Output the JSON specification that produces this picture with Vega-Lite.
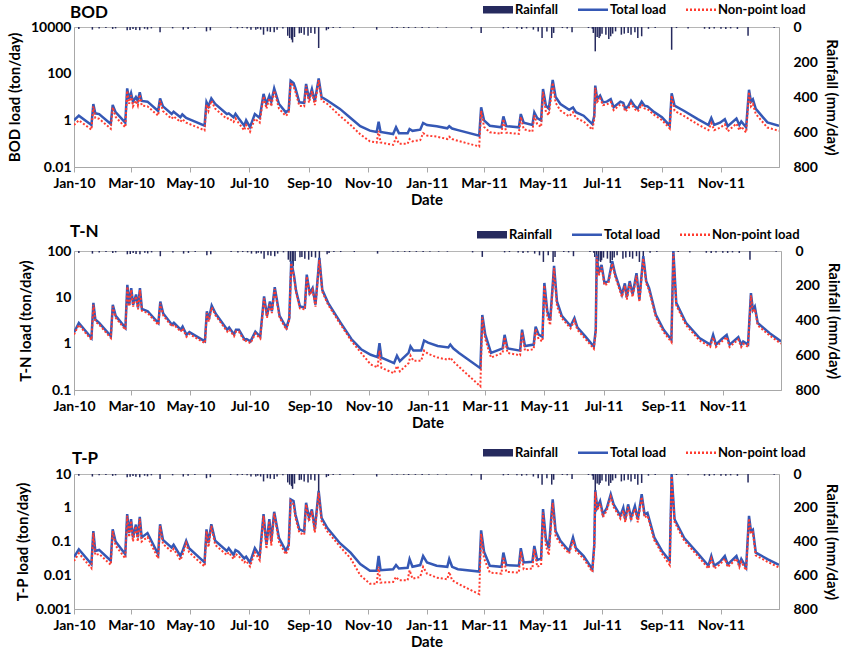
{
"$schema": "https://vega.github.io/schema/vega-lite/v6.json",
"padding": {"left": 6, "top": 2, "right": 2, "bottom": 0},
"spacing": 14,
"config": {
  "font": "Lato",
  "view": {"stroke": "#b5b5b5"},
  "axis": {"labelFont": "Lato", "labelFontWeight": "bold", "labelFontSize": 14, "labelColor": "#000", "titleFont": "Lato", "titleFontSize": 15, "titleFontWeight": "bold", "titleColor": "#000", "domainColor": "#a8a8a8", "tickColor": "#a8a8a8", "grid": false},
  "title": {"font": "Lato", "fontSize": 17, "fontWeight": "bold", "color": "#000", "anchor": "start", "frame": "group"},
  "legend": {"orient": "none", "direction": "horizontal", "title": null, "symbolSize": 225, "labelOffset": 18, "columnPadding": 14, "labelFontSize": 13, "labelFontWeight": "bold", "labelFont": "Lato", "labelColor": "#000"}
},
"resolve": {"scale": {"color": "independent"}},
"datasets": {
"rain": [
{"d":"2010-01-06","rain":11},{"d":"2010-01-20","rain":15},{"d":"2010-01-27","rain":8},{"d":"2010-02-03","rain":6},{"d":"2010-02-10","rain":11},{"d":"2010-02-13","rain":8},{"d":"2010-02-25","rain":19},{"d":"2010-02-28","rain":17},{"d":"2010-03-03","rain":12},{"d":"2010-03-06","rain":17},{"d":"2010-03-10","rain":19},{"d":"2010-03-15","rain":10},{"d":"2010-03-18","rain":14},{"d":"2010-03-22","rain":8},{"d":"2010-03-31","rain":30},{"d":"2010-04-13","rain":8},{"d":"2010-04-24","rain":15},{"d":"2010-04-29","rain":11},{"d":"2010-05-06","rain":6},{"d":"2010-05-18","rain":25},{"d":"2010-05-22","rain":19},{"d":"2010-06-12","rain":6},{"d":"2010-06-19","rain":8},{"d":"2010-06-24","rain":6},{"d":"2010-06-29","rain":8},{"d":"2010-07-03","rain":15},{"d":"2010-07-08","rain":15},{"d":"2010-07-10","rain":10},{"d":"2010-07-13","rain":15},{"d":"2010-07-16","rain":44},{"d":"2010-07-20","rain":25},{"d":"2010-07-23","rain":28},{"d":"2010-07-27","rain":30},{"d":"2010-07-30","rain":15},{"d":"2010-08-05","rain":8},{"d":"2010-08-10","rain":50},{"d":"2010-08-12","rain":63},{"d":"2010-08-14","rain":72},{"d":"2010-08-15","rain":88},{"d":"2010-08-17","rain":57},{"d":"2010-08-22","rain":36},{"d":"2010-08-24","rain":34},{"d":"2010-08-27","rain":44},{"d":"2010-08-31","rain":50},{"d":"2010-09-03","rain":34},{"d":"2010-09-07","rain":38},{"d":"2010-09-11","rain":120},{"d":"2010-09-19","rain":19},{"d":"2010-09-21","rain":12},{"d":"2010-09-26","rain":6},{"d":"2010-10-03","rain":6},{"d":"2010-10-17","rain":6},{"d":"2010-11-10","rain":15},{"d":"2010-11-26","rain":5},{"d":"2010-12-01","rain":5},{"d":"2010-12-08","rain":5},{"d":"2010-12-13","rain":6},{"d":"2010-12-20","rain":5},{"d":"2010-12-27","rain":6},
{"d":"2011-01-03","rain":4},{"d":"2011-01-12","rain":4},{"d":"2011-01-21","rain":4},{"d":"2011-02-16","rain":8},{"d":"2011-02-26","rain":34},{"d":"2011-03-21","rain":8},{"d":"2011-03-26","rain":6},{"d":"2011-04-04","rain":8},{"d":"2011-04-09","rain":11},{"d":"2011-04-14","rain":8},{"d":"2011-04-21","rain":15},{"d":"2011-04-26","rain":25},{"d":"2011-04-30","rain":63},{"d":"2011-05-05","rain":25},{"d":"2011-05-10","rain":63},{"d":"2011-05-12","rain":34},{"d":"2011-05-21","rain":6},{"d":"2011-05-26","rain":8},{"d":"2011-05-31","rain":30},{"d":"2011-06-17","rain":6},{"d":"2011-06-21","rain":10},{"d":"2011-06-22","rain":34},{"d":"2011-06-24","rain":139},{"d":"2011-06-26","rain":57},{"d":"2011-06-28","rain":63},{"d":"2011-06-29","rain":53},{"d":"2011-07-01","rain":38},{"d":"2011-07-05","rain":44},{"d":"2011-07-08","rain":69},{"d":"2011-07-10","rain":53},{"d":"2011-07-12","rain":38},{"d":"2011-07-15","rain":25},{"d":"2011-07-21","rain":44},{"d":"2011-07-24","rain":38},{"d":"2011-07-28","rain":34},{"d":"2011-07-31","rain":44},{"d":"2011-08-04","rain":30},{"d":"2011-08-07","rain":63},{"d":"2011-08-11","rain":53},{"d":"2011-08-18","rain":10},{"d":"2011-08-25","rain":6},{"d":"2011-09-11","rain":130},{"d":"2011-09-16","rain":6},{"d":"2011-09-28","rain":8},{"d":"2011-10-15","rain":10},{"d":"2011-10-20","rain":11},{"d":"2011-10-25","rain":8},{"d":"2011-11-01","rain":10},{"d":"2011-11-06","rain":11},{"d":"2011-11-11","rain":8},{"d":"2011-11-18","rain":11},{"d":"2011-11-29","rain":50},{"d":"2011-12-26","rain":4}
],
"bod": [
{"d":"2010-01-01","t":1.0,"n":0.631},{"d":"2010-01-06","t":1.58,"n":1.0},{"d":"2010-01-19","t":0.631,"n":0.398},{"d":"2010-01-21","t":5.01,"n":3.98},{"d":"2010-01-23","t":2.0,"n":1.26},{"d":"2010-01-27","t":1.86,"n":1.17},{"d":"2010-02-08","t":0.692,"n":0.437},{"d":"2010-02-10","t":4.57,"n":3.63},{"d":"2010-02-13","t":2.24,"n":1.41},{"d":"2010-02-23","t":0.794,"n":0.501},{"d":"2010-02-25","t":23.4,"n":18.6},{"d":"2010-02-27","t":8.13,"n":5.13},{"d":"2010-03-01","t":14.8,"n":11.7},{"d":"2010-03-03","t":6.31,"n":3.98},{"d":"2010-03-06","t":10,"n":7.08},{"d":"2010-03-08","t":6.76,"n":4.27},{"d":"2010-03-10","t":15.8,"n":12.6},{"d":"2010-03-12","t":6.76,"n":4.27},{"d":"2010-03-18","t":6.31,"n":3.98},{"d":"2010-03-29","t":2.51,"n":1.58},{"d":"2010-03-31","t":8.71,"n":6.92},{"d":"2010-04-03","t":3.98,"n":2.51},{"d":"2010-04-12","t":1.86,"n":1.17},{"d":"2010-04-14","t":2.34,"n":1.48},{"d":"2010-04-21","t":1.35,"n":0.851},{"d":"2010-04-23","t":1.78,"n":1.12},{"d":"2010-04-27","t":1.26,"n":0.794},{"d":"2010-04-30","t":1.12,"n":0.708},{"d":"2010-05-16","t":0.589,"n":0.372},{"d":"2010-05-18","t":6.03,"n":4.79},{"d":"2010-05-20","t":3.98,"n":2.51},{"d":"2010-05-23","t":8.71,"n":6.92},{"d":"2010-05-27","t":5.01,"n":3.16},{"d":"2010-06-08","t":1.86,"n":1.17},{"d":"2010-06-10","t":2.0,"n":1.26},{"d":"2010-06-15","t":1.35,"n":0.851},{"d":"2010-06-17","t":1.91,"n":1.2},{"d":"2010-06-20","t":1.26,"n":0.794},{"d":"2010-06-26","t":0.589,"n":0.372},{"d":"2010-06-28","t":1.0,"n":0.631},{"d":"2010-07-02","t":0.513,"n":0.324},{"d":"2010-07-07","t":1.86,"n":1.17},{"d":"2010-07-12","t":1.26,"n":0.794},{"d":"2010-07-16","t":13.5,"n":10.7},{"d":"2010-07-19","t":5.01,"n":3.16},{"d":"2010-07-22","t":11.2,"n":8.91},{"d":"2010-07-24","t":6.31,"n":3.98},{"d":"2010-07-27","t":23.4,"n":18.6},{"d":"2010-08-01","t":5.01,"n":3.16},{"d":"2010-08-08","t":2.19,"n":1.55},{"d":"2010-08-11","t":2.82,"n":2.0},{"d":"2010-08-13","t":50.1,"n":41.7},{"d":"2010-08-16","t":39.8,"n":28.2},{"d":"2010-08-18","t":23.4,"n":16.6},{"d":"2010-08-22","t":5.89,"n":4.17},{"d":"2010-08-27","t":5.62,"n":3.98},{"d":"2010-08-29","t":36.3,"n":30.2},{"d":"2010-09-01","t":8.13,"n":5.75},{"d":"2010-09-04","t":21.9,"n":18.2},{"d":"2010-09-07","t":6.31,"n":4.47},{"d":"2010-09-11","t":63.1,"n":52.5},{"d":"2010-09-14","t":10,"n":7.08},{"d":"2010-09-20","t":7.08,"n":5.01},{"d":"2010-10-03","t":3.09,"n":1.55},{"d":"2010-10-14","t":1.26,"n":0.631},{"d":"2010-10-24","t":0.562,"n":0.251},{"d":"2010-11-03","t":0.363,"n":0.126},{"d":"2010-11-10","t":0.316,"n":0.112},{"d":"2010-11-12","t":0.871,"n":0.355},{"d":"2010-11-14","t":0.316,"n":0.112},{"d":"2010-11-27","t":0.257,"n":0.0891},{"d":"2010-11-30","t":0.501,"n":0.178},{"d":"2010-12-03","t":0.282,"n":0.1},{"d":"2010-12-12","t":0.282,"n":0.1},{"d":"2010-12-14","t":0.427,"n":0.158},{"d":"2010-12-17","t":0.355,"n":0.126},{"d":"2010-12-25","t":0.398,"n":0.141},{"d":"2010-12-28","t":0.776,"n":0.282},
{"d":"2011-01-01","t":0.631,"n":0.224},{"d":"2011-01-11","t":0.562,"n":0.2},{"d":"2011-01-22","t":0.457,"n":0.158},{"d":"2011-01-24","t":0.562,"n":0.2},{"d":"2011-01-27","t":0.447,"n":0.158},{"d":"2011-02-02","t":0.38,"n":0.132},{"d":"2011-02-24","t":0.219,"n":0.0759},{"d":"2011-02-26","t":3.63,"n":2.57},{"d":"2011-03-01","t":1.0,"n":0.525},{"d":"2011-03-07","t":0.589,"n":0.309},{"d":"2011-03-19","t":0.501,"n":0.263},{"d":"2011-03-21","t":1.48,"n":1.12},{"d":"2011-03-24","t":0.562,"n":0.295},{"d":"2011-04-06","t":0.501,"n":0.263},{"d":"2011-04-08","t":1.86,"n":1.41},{"d":"2011-04-11","t":0.794,"n":0.417},{"d":"2011-04-20","t":0.631,"n":0.331},{"d":"2011-04-22","t":2.19,"n":1.66},{"d":"2011-04-25","t":1.26,"n":0.661},{"d":"2011-04-29","t":1.0,"n":0.525},{"d":"2011-05-01","t":21.9,"n":16.6},{"d":"2011-05-04","t":4.27,"n":2.24},{"d":"2011-05-07","t":3.16,"n":1.66},{"d":"2011-05-11","t":53.7,"n":40.7},{"d":"2011-05-14","t":10,"n":5.62},{"d":"2011-05-19","t":5.01,"n":2.63},{"d":"2011-05-28","t":2.82,"n":1.48},{"d":"2011-06-01","t":3.55,"n":2.24},{"d":"2011-06-04","t":2.24,"n":1.26},{"d":"2011-06-12","t":1.58,"n":0.891},{"d":"2011-06-21","t":0.692,"n":0.398},{"d":"2011-06-23","t":1.58,"n":1.12},{"d":"2011-06-24","t":30.9,"n":25.1},{"d":"2011-06-26","t":8.13,"n":6.17},{"d":"2011-06-29","t":11.5,"n":8.71},{"d":"2011-07-02","t":5.89,"n":4.47},{"d":"2011-07-06","t":6.31,"n":4.79},{"d":"2011-07-10","t":8.13,"n":6.17},{"d":"2011-07-13","t":3.63,"n":2.75},{"d":"2011-07-20","t":6.31,"n":4.79},{"d":"2011-07-23","t":5.62,"n":4.27},{"d":"2011-07-25","t":3.16,"n":2.4},{"d":"2011-07-28","t":3.98,"n":3.02},{"d":"2011-07-31","t":6.92,"n":5.25},{"d":"2011-08-04","t":3.98,"n":3.02},{"d":"2011-08-07","t":3.16,"n":2.4},{"d":"2011-08-11","t":6.31,"n":4.79},{"d":"2011-08-14","t":4.27,"n":3.24},{"d":"2011-08-17","t":3.98,"n":3.02},{"d":"2011-08-24","t":2.24,"n":1.7},{"d":"2011-09-01","t":1.35,"n":1.02},{"d":"2011-09-09","t":0.589,"n":0.447},{"d":"2011-09-11","t":14.5,"n":11.5},{"d":"2011-09-14","t":4.27,"n":2.57},{"d":"2011-09-24","t":2.51,"n":1.51},{"d":"2011-10-08","t":1.12,"n":0.676},{"d":"2011-10-19","t":0.631,"n":0.38},{"d":"2011-10-22","t":1.26,"n":0.759},{"d":"2011-10-25","t":0.631,"n":0.38},{"d":"2011-10-31","t":0.794,"n":0.479},{"d":"2011-11-05","t":1.12,"n":0.676},{"d":"2011-11-08","t":0.562,"n":0.339},{"d":"2011-11-17","t":1.2,"n":0.724},{"d":"2011-11-20","t":0.631,"n":0.38},{"d":"2011-11-22","t":0.891,"n":0.537},{"d":"2011-11-27","t":0.501,"n":0.302},{"d":"2011-11-30","t":20.4,"n":16.2},{"d":"2011-12-02","t":6.31,"n":3.98},{"d":"2011-12-04","t":7.94,"n":5.01},{"d":"2011-12-07","t":3.09,"n":1.86},{"d":"2011-12-19","t":0.813,"n":0.49},{"d":"2011-12-31","t":0.589,"n":0.355}
],
"tn": [
{"d":"2010-01-01","t":1.74,"n":1.58},{"d":"2010-01-06","t":2.79,"n":2.54},{"d":"2010-01-19","t":1.32,"n":1.2},{"d":"2010-01-21","t":7.59,"n":6.92},{"d":"2010-01-23","t":3.31,"n":3.02},{"d":"2010-01-27","t":2.82,"n":2.57},{"d":"2010-02-08","t":1.45,"n":1.32},{"d":"2010-02-10","t":6.92,"n":6.31},{"d":"2010-02-13","t":3.98,"n":3.63},{"d":"2010-02-23","t":2.19,"n":2.0},{"d":"2010-02-25","t":18.6,"n":17.0},{"d":"2010-02-27","t":6.92,"n":6.31},{"d":"2010-03-01","t":15.8,"n":14.5},{"d":"2010-03-03","t":6.92,"n":6.31},{"d":"2010-03-06","t":11.5,"n":10.5},{"d":"2010-03-08","t":6.03,"n":5.5},{"d":"2010-03-10","t":15.8,"n":14.5},{"d":"2010-03-12","t":5.62,"n":5.13},{"d":"2010-03-18","t":5.01,"n":4.57},{"d":"2010-03-29","t":2.79,"n":2.54},{"d":"2010-03-31","t":8.13,"n":7.41},{"d":"2010-04-03","t":4.47,"n":4.07},{"d":"2010-04-12","t":2.57,"n":2.34},{"d":"2010-04-14","t":2.82,"n":2.57},{"d":"2010-04-21","t":2.0,"n":1.82},{"d":"2010-04-23","t":2.34,"n":2.14},{"d":"2010-04-27","t":1.55,"n":1.41},{"d":"2010-04-30","t":1.78,"n":1.62},{"d":"2010-05-16","t":1.12,"n":1.02},{"d":"2010-05-18","t":5.01,"n":4.57},{"d":"2010-05-20","t":3.31,"n":3.02},{"d":"2010-05-23","t":6.61,"n":6.03},{"d":"2010-05-27","t":4.47,"n":4.07},{"d":"2010-06-08","t":2.0,"n":1.82},{"d":"2010-06-10","t":2.24,"n":2.04},{"d":"2010-06-15","t":1.58,"n":1.45},{"d":"2010-06-17","t":2.0,"n":1.82},{"d":"2010-06-20","t":2.0,"n":1.82},{"d":"2010-06-26","t":1.22,"n":1.11},{"d":"2010-06-28","t":1.26,"n":1.15},{"d":"2010-07-02","t":1.12,"n":1.02},{"d":"2010-07-07","t":1.82,"n":1.66},{"d":"2010-07-12","t":1.41,"n":1.29},{"d":"2010-07-16","t":10.5,"n":9.55},{"d":"2010-07-19","t":3.98,"n":3.63},{"d":"2010-07-22","t":8.13,"n":7.41},{"d":"2010-07-24","t":5.01,"n":4.57},{"d":"2010-07-27","t":16.6,"n":15.1},{"d":"2010-08-01","t":3.98,"n":3.63},{"d":"2010-08-08","t":2.19,"n":2.0},{"d":"2010-08-11","t":3.55,"n":3.24},{"d":"2010-08-13","t":60.3,"n":55.0},{"d":"2010-08-16","t":28.2,"n":25.7},{"d":"2010-08-18","t":13.8,"n":12.6},{"d":"2010-08-22","t":6.31,"n":5.75},{"d":"2010-08-27","t":6.03,"n":5.5},{"d":"2010-08-29","t":30.9,"n":28.2},{"d":"2010-09-01","t":12.3,"n":11.2},{"d":"2010-09-04","t":15.8,"n":14.5},{"d":"2010-09-07","t":6.92,"n":6.31},{"d":"2010-09-11","t":70.8,"n":64.6},{"d":"2010-09-14","t":14.5,"n":13.2},{"d":"2010-09-20","t":7.59,"n":6.92},{"d":"2010-10-03","t":2.82,"n":2.57},{"d":"2010-10-14","t":1.26,"n":1.15},{"d":"2010-10-24","t":0.759,"n":0.631},{"d":"2010-11-03","t":0.575,"n":0.355},{"d":"2010-11-10","t":0.513,"n":0.309},{"d":"2010-11-12","t":1.02,"n":0.708},{"d":"2010-11-14","t":0.501,"n":0.302},{"d":"2010-11-27","t":0.38,"n":0.229},{"d":"2010-11-30","t":0.55,"n":0.331},{"d":"2010-12-03","t":0.417,"n":0.251},{"d":"2010-12-12","t":0.631,"n":0.38},{"d":"2010-12-14","t":0.871,"n":0.55},{"d":"2010-12-17","t":0.708,"n":0.427},{"d":"2010-12-25","t":0.708,"n":0.427},{"d":"2010-12-28","t":1.17,"n":0.708},
{"d":"2011-01-01","t":1.05,"n":0.603},{"d":"2011-01-11","t":0.891,"n":0.501},{"d":"2011-01-22","t":0.832,"n":0.447},{"d":"2011-01-24","t":0.955,"n":0.501},{"d":"2011-01-27","t":0.794,"n":0.417},{"d":"2011-02-02","t":0.631,"n":0.316},{"d":"2011-02-24","t":0.295,"n":0.12},{"d":"2011-02-26","t":4.17,"n":3.72},{"d":"2011-03-01","t":1.58,"n":1.26},{"d":"2011-03-07","t":0.631,"n":0.501},{"d":"2011-03-19","t":0.794,"n":0.631},{"d":"2011-03-21","t":1.55,"n":1.38},{"d":"2011-03-24","t":0.794,"n":0.631},{"d":"2011-04-06","t":0.708,"n":0.562},{"d":"2011-04-08","t":2.0,"n":1.78},{"d":"2011-04-11","t":0.891,"n":0.708},{"d":"2011-04-20","t":0.955,"n":0.759},{"d":"2011-04-22","t":2.34,"n":2.09},{"d":"2011-04-25","t":1.58,"n":1.26},{"d":"2011-04-29","t":1.41,"n":1.12},{"d":"2011-05-01","t":20.4,"n":18.2},{"d":"2011-05-04","t":5.01,"n":3.98},{"d":"2011-05-07","t":3.16,"n":2.51},{"d":"2011-05-11","t":47.9,"n":42.7},{"d":"2011-05-14","t":8.13,"n":6.46},{"d":"2011-05-19","t":3.98,"n":3.55},{"d":"2011-05-28","t":2.4,"n":2.14},{"d":"2011-06-01","t":3.55,"n":3.16},{"d":"2011-06-04","t":2.24,"n":2.0},{"d":"2011-06-12","t":1.45,"n":1.29},{"d":"2011-06-21","t":0.871,"n":0.776},{"d":"2011-06-23","t":2.0,"n":1.78},{"d":"2011-06-24","t":83.2,"n":75.9},{"d":"2011-06-26","t":33.1,"n":29.5},{"d":"2011-06-29","t":50.1,"n":44.7},{"d":"2011-07-02","t":20.4,"n":18.2},{"d":"2011-07-06","t":22.4,"n":20.0},{"d":"2011-07-10","t":60.3,"n":53.7},{"d":"2011-07-13","t":31.6,"n":28.2},{"d":"2011-07-20","t":11.5,"n":10.2},{"d":"2011-07-23","t":20.0,"n":17.8},{"d":"2011-07-25","t":10,"n":8.91},{"d":"2011-07-28","t":22.4,"n":20.0},{"d":"2011-07-31","t":11.5,"n":10.2},{"d":"2011-08-04","t":33.1,"n":29.5},{"d":"2011-08-07","t":8.91,"n":7.94},{"d":"2011-08-11","t":77.6,"n":69.2},{"d":"2011-08-14","t":22.4,"n":20.0},{"d":"2011-08-17","t":15.8,"n":14.1},{"d":"2011-08-24","t":4.17,"n":3.72},{"d":"2011-09-01","t":2.0,"n":1.78},{"d":"2011-09-09","t":1.22,"n":1.08},{"d":"2011-09-11","t":100,"n":89.1},{"d":"2011-09-14","t":7.59,"n":6.76},{"d":"2011-09-24","t":2.82,"n":2.51},{"d":"2011-10-08","t":1.32,"n":1.17},{"d":"2011-10-19","t":0.955,"n":0.851},{"d":"2011-10-22","t":1.55,"n":1.38},{"d":"2011-10-25","t":0.955,"n":0.851},{"d":"2011-10-31","t":1.26,"n":1.12},{"d":"2011-11-05","t":1.55,"n":1.38},{"d":"2011-11-08","t":0.955,"n":0.851},{"d":"2011-11-17","t":1.38,"n":1.23},{"d":"2011-11-20","t":0.955,"n":0.851},{"d":"2011-11-22","t":1.12,"n":1.0},{"d":"2011-11-27","t":0.955,"n":0.851},{"d":"2011-11-30","t":12.3,"n":11.0},{"d":"2011-12-02","t":5.37,"n":4.79},{"d":"2011-12-04","t":6.31,"n":5.62},{"d":"2011-12-07","t":2.79,"n":2.48},{"d":"2011-12-19","t":1.7,"n":1.51},{"d":"2011-12-31","t":1.12,"n":1.0}
],
"tp": [
{"d":"2010-01-01","t":0.0347,"n":0.0263},{"d":"2010-01-06","t":0.0589,"n":0.0447},{"d":"2010-01-19","t":0.0214,"n":0.0162},{"d":"2010-01-21","t":0.204,"n":0.182},{"d":"2010-01-23","t":0.0525,"n":0.0398},{"d":"2010-01-27","t":0.0562,"n":0.0427},{"d":"2010-02-08","t":0.0269,"n":0.0204},{"d":"2010-02-10","t":0.229,"n":0.204},{"d":"2010-02-13","t":0.1,"n":0.0759},{"d":"2010-02-23","t":0.0417,"n":0.0316},{"d":"2010-02-25","t":0.646,"n":0.575},{"d":"2010-02-27","t":0.178,"n":0.135},{"d":"2010-03-01","t":0.457,"n":0.407},{"d":"2010-03-03","t":0.132,"n":0.1},{"d":"2010-03-06","t":0.316,"n":0.282},{"d":"2010-03-08","t":0.132,"n":0.1},{"d":"2010-03-10","t":0.537,"n":0.479},{"d":"2010-03-12","t":0.132,"n":0.1},{"d":"2010-03-18","t":0.178,"n":0.135},{"d":"2010-03-29","t":0.0417,"n":0.0316},{"d":"2010-03-31","t":0.324,"n":0.288},{"d":"2010-04-03","t":0.112,"n":0.0851},{"d":"2010-04-12","t":0.0661,"n":0.0501},{"d":"2010-04-14","t":0.0794,"n":0.0603},{"d":"2010-04-21","t":0.0372,"n":0.0282},{"d":"2010-04-23","t":0.0501,"n":0.038},{"d":"2010-04-27","t":0.105,"n":0.0891},{"d":"2010-04-30","t":0.0631,"n":0.0479},{"d":"2010-05-16","t":0.024,"n":0.0182},{"d":"2010-05-18","t":0.229,"n":0.204},{"d":"2010-05-20","t":0.0891,"n":0.0676},{"d":"2010-05-23","t":0.324,"n":0.288},{"d":"2010-05-27","t":0.105,"n":0.0794},{"d":"2010-06-08","t":0.0525,"n":0.0398},{"d":"2010-06-10","t":0.0631,"n":0.0479},{"d":"2010-06-15","t":0.0398,"n":0.0302},{"d":"2010-06-17","t":0.0562,"n":0.0427},{"d":"2010-06-20","t":0.0501,"n":0.038},{"d":"2010-06-26","t":0.0316,"n":0.024},{"d":"2010-06-28","t":0.0355,"n":0.0269},{"d":"2010-07-02","t":0.024,"n":0.0182},{"d":"2010-07-07","t":0.0631,"n":0.0479},{"d":"2010-07-12","t":0.0372,"n":0.0282},{"d":"2010-07-16","t":0.646,"n":0.575},{"d":"2010-07-19","t":0.0794,"n":0.0603},{"d":"2010-07-22","t":0.457,"n":0.407},{"d":"2010-07-24","t":0.1,"n":0.0759},{"d":"2010-07-27","t":0.759,"n":0.676},{"d":"2010-08-01","t":0.126,"n":0.0955},{"d":"2010-08-08","t":0.0525,"n":0.0417},{"d":"2010-08-11","t":0.0794,"n":0.0631},{"d":"2010-08-13","t":1.78,"n":1.58},{"d":"2010-08-16","t":1.58,"n":1.26},{"d":"2010-08-18","t":0.631,"n":0.501},{"d":"2010-08-22","t":0.229,"n":0.182},{"d":"2010-08-27","t":0.2,"n":0.158},{"d":"2010-08-29","t":1.41,"n":1.26},{"d":"2010-09-01","t":0.501,"n":0.398},{"d":"2010-09-04","t":0.891,"n":0.794},{"d":"2010-09-07","t":0.229,"n":0.182},{"d":"2010-09-11","t":3.16,"n":2.82},{"d":"2010-09-14","t":0.501,"n":0.398},{"d":"2010-09-20","t":0.251,"n":0.2},{"d":"2010-10-03","t":0.0891,"n":0.0708},{"d":"2010-10-14","t":0.0468,"n":0.0316},{"d":"2010-10-24","t":0.0214,"n":0.01},{"d":"2010-11-03","t":0.0135,"n":0.00562},{"d":"2010-11-10","t":0.0135,"n":0.00562},{"d":"2010-11-12","t":0.0372,"n":0.0178},{"d":"2010-11-14","t":0.0141,"n":0.00603},{"d":"2010-11-27","t":0.0151,"n":0.00631},{"d":"2010-11-30","t":0.02,"n":0.00891},{"d":"2010-12-03","t":0.0158,"n":0.00708},{"d":"2010-12-12","t":0.0166,"n":0.00708},{"d":"2010-12-14","t":0.0302,"n":0.0141},{"d":"2010-12-17","t":0.0178,"n":0.00794},{"d":"2010-12-25","t":0.02,"n":0.00891},{"d":"2010-12-28","t":0.0372,"n":0.0178},
{"d":"2011-01-01","t":0.024,"n":0.0112},{"d":"2011-01-11","t":0.0191,"n":0.00851},{"d":"2011-01-22","t":0.0178,"n":0.00759},{"d":"2011-01-24","t":0.0302,"n":0.0126},{"d":"2011-01-27","t":0.0178,"n":0.00708},{"d":"2011-02-02","t":0.0151,"n":0.00562},{"d":"2011-02-24","t":0.0129,"n":0.00275},{"d":"2011-02-26","t":0.214,"n":0.17},{"d":"2011-03-01","t":0.0501,"n":0.0316},{"d":"2011-03-07","t":0.0191,"n":0.012},{"d":"2011-03-19","t":0.0178,"n":0.0112},{"d":"2011-03-21","t":0.0468,"n":0.0355},{"d":"2011-03-24","t":0.02,"n":0.0126},{"d":"2011-04-06","t":0.0191,"n":0.012},{"d":"2011-04-08","t":0.0631,"n":0.0501},{"d":"2011-04-11","t":0.024,"n":0.0151},{"d":"2011-04-20","t":0.0251,"n":0.0158},{"d":"2011-04-22","t":0.0741,"n":0.0589},{"d":"2011-04-25","t":0.0282,"n":0.0178},{"d":"2011-04-29","t":0.0316,"n":0.02},{"d":"2011-05-01","t":0.912,"n":0.724},{"d":"2011-05-04","t":0.117,"n":0.0741},{"d":"2011-05-07","t":0.0631,"n":0.0398},{"d":"2011-05-11","t":1.78,"n":1.41},{"d":"2011-05-14","t":0.204,"n":0.141},{"d":"2011-05-19","t":0.105,"n":0.0871},{"d":"2011-05-28","t":0.0525,"n":0.0437},{"d":"2011-06-01","t":0.132,"n":0.11},{"d":"2011-06-04","t":0.0631,"n":0.0525},{"d":"2011-06-12","t":0.0372,"n":0.0309},{"d":"2011-06-21","t":0.0151,"n":0.0126},{"d":"2011-06-23","t":0.0794,"n":0.0661},{"d":"2011-06-24","t":3.31,"n":2.95},{"d":"2011-06-26","t":1.0,"n":0.832},{"d":"2011-06-29","t":1.58,"n":1.32},{"d":"2011-07-02","t":0.631,"n":0.525},{"d":"2011-07-06","t":1.0,"n":0.832},{"d":"2011-07-10","t":2.51,"n":2.09},{"d":"2011-07-13","t":1.26,"n":1.05},{"d":"2011-07-20","t":0.575,"n":0.479},{"d":"2011-07-23","t":1.0,"n":0.832},{"d":"2011-07-25","t":0.447,"n":0.372},{"d":"2011-07-28","t":1.26,"n":1.05},{"d":"2011-07-31","t":0.501,"n":0.417},{"d":"2011-08-04","t":1.12,"n":0.933},{"d":"2011-08-07","t":0.447,"n":0.372},{"d":"2011-08-11","t":2.51,"n":2.09},{"d":"2011-08-14","t":0.631,"n":0.525},{"d":"2011-08-17","t":0.708,"n":0.589},{"d":"2011-08-24","t":0.132,"n":0.11},{"d":"2011-09-01","t":0.0525,"n":0.0437},{"d":"2011-09-09","t":0.0269,"n":0.02},{"d":"2011-09-11","t":9.77,"n":8.71},{"d":"2011-09-14","t":0.457,"n":0.38},{"d":"2011-09-24","t":0.126,"n":0.105},{"d":"2011-10-08","t":0.0447,"n":0.0372},{"d":"2011-10-19","t":0.0191,"n":0.0158},{"d":"2011-10-22","t":0.0372,"n":0.0309},{"d":"2011-10-25","t":0.0191,"n":0.0158},{"d":"2011-10-31","t":0.0251,"n":0.0209},{"d":"2011-11-05","t":0.0372,"n":0.0309},{"d":"2011-11-08","t":0.0209,"n":0.0174},{"d":"2011-11-17","t":0.0372,"n":0.0309},{"d":"2011-11-20","t":0.0209,"n":0.0174},{"d":"2011-11-22","t":0.0302,"n":0.0251},{"d":"2011-11-27","t":0.017,"n":0.0141},{"d":"2011-11-30","t":0.575,"n":0.479},{"d":"2011-12-02","t":0.2,"n":0.166},{"d":"2011-12-04","t":0.224,"n":0.186},{"d":"2011-12-07","t":0.0468,"n":0.0389},{"d":"2011-12-19","t":0.0302,"n":0.0251},{"d":"2011-12-31","t":0.0204,"n":0.017}
]
},
"vconcat": [
{
  "width": 705, "height": 140,
  "title": {"text": "BOD", "offset": -19, "dx": -4},
  "resolve": {"scale": {"y": "independent"}},
  "layer": [
    {"data": {"name": "rain"}, "mark": {"type": "bar", "width": 1.5},
     "encoding": {
      "x": {"field": "d", "type": "temporal", "scale": {"type": "utc", "nice": false, "padding": 0, "domain": [{"year": 2010, "month": 1, "date": 1, "utc": true}, {"year": 2011, "month": 12, "date": 31, "utc": true}]}, "axis": {"title": "Date", "format": "%b-%y", "tickCount": {"interval": "month", "step": 2}, "labelFlush": false, "labelOverlap": false, "tickSize": 5, "labelPadding": 4, "titlePadding": 2}},
      "y": {"field": "rain", "type": "quantitative", "scale": {"domain": [0, 800], "reverse": true, "nice": false}, "axis": {"orient": "right", "values": [0, 200, 400, 600, 800], "title": "Rainfall (mm/day)", "ticks": false, "labelPadding": 14, "titlePadding": 6}},
      "color": {"datum": "Rainfall", "scale": {"domain": ["Rainfall", "Total load", "Non-point load"], "range": ["#262a5e", "#3558b5", "#ff3b2f"]},
        "legend": {"legendX": 410, "legendY": -24,
          "encode": {"symbols": {"update": {
            "shape": {"signal": "datum.value === 'Rainfall' ? 'M-1,-0.5H3V0.5H-1Z' : 'M-1,0H3'"},
            "fill": {"signal": "datum.value === 'Rainfall' ? '#262a5e' : 'transparent'"},
            "stroke": {"signal": "datum.value === 'Rainfall' ? 'transparent' : (datum.value === 'Total load' ? '#3558b5' : '#ff3b2f')"},
            "strokeWidth": {"signal": "datum.value === 'Rainfall' ? 0 : 2.5"},
            "strokeDash": {"signal": "datum.value === 'Non-point load' ? [2, 2] : [1, 0]"},
            "opacity": {"value": 1}}}}}}
     }},
    {"data": {"name": "bod"},
     "layer": [
      {"mark": {"type": "line", "strokeWidth": 2.5, "clip": true},
       "encoding": {
        "x": {"field": "d", "type": "temporal"},
        "y": {"field": "t", "type": "quantitative", "scale": {"type": "log", "domain": [0.01, 10000], "nice": false}, "axis": {"values": [0.01, 1, 100, 10000], "format": "~g", "title": "BOD load (ton/day)", "ticks": false, "labelPadding": 3, "minExtent": 46, "maxExtent": 46, "titlePadding": 6}},
        "color": {"datum": "Total load"}}},
      {"mark": {"type": "line", "strokeWidth": 2, "strokeDash": [2, 2], "clip": true},
       "encoding": {
        "x": {"field": "d", "type": "temporal"},
        "y": {"field": "n", "type": "quantitative"},
        "color": {"datum": "Non-point load"}}}
     ]}
  ]
},
{
  "width": 707, "height": 139,
  "title": {"text": "T-N", "offset": -13, "dx": -4},
  "resolve": {"scale": {"y": "independent"}},
  "layer": [
    {"data": {"name": "rain"}, "mark": {"type": "bar", "width": 1.5},
     "encoding": {
      "x": {"field": "d", "type": "temporal", "scale": {"type": "utc", "nice": false, "padding": 0, "domain": [{"year": 2010, "month": 1, "date": 1, "utc": true}, {"year": 2011, "month": 12, "date": 31, "utc": true}]}, "axis": {"title": "Date", "format": "%b-%y", "tickCount": {"interval": "month", "step": 2}, "labelFlush": false, "labelOverlap": false, "tickSize": 5, "labelPadding": 4, "titlePadding": 2}},
      "y": {"field": "rain", "type": "quantitative", "scale": {"domain": [0, 800], "reverse": true, "nice": false}, "axis": {"orient": "right", "values": [0, 200, 400, 600, 800], "title": "Rainfall (mm/day)", "ticks": false, "labelPadding": 14, "titlePadding": 6}},
      "color": {"datum": "Rainfall", "scale": {"domain": ["Rainfall", "Total load", "Non-point load"], "range": ["#262a5e", "#3558b5", "#ff3b2f"]},
        "legend": {"legendX": 404, "legendY": -23,
          "encode": {"symbols": {"update": {
            "shape": {"signal": "datum.value === 'Rainfall' ? 'M-1,-0.5H3V0.5H-1Z' : 'M-1,0H3'"},
            "fill": {"signal": "datum.value === 'Rainfall' ? '#262a5e' : 'transparent'"},
            "stroke": {"signal": "datum.value === 'Rainfall' ? 'transparent' : (datum.value === 'Total load' ? '#3558b5' : '#ff3b2f')"},
            "strokeWidth": {"signal": "datum.value === 'Rainfall' ? 0 : 2.5"},
            "strokeDash": {"signal": "datum.value === 'Non-point load' ? [2, 2] : [1, 0]"},
            "opacity": {"value": 1}}}}}}
     }},
    {"data": {"name": "tn"},
     "layer": [
      {"mark": {"type": "line", "strokeWidth": 2.5, "clip": true},
       "encoding": {
        "x": {"field": "d", "type": "temporal"},
        "y": {"field": "t", "type": "quantitative", "scale": {"type": "log", "domain": [0.1, 100], "nice": false}, "axis": {"values": [0.1, 1, 10, 100], "format": "~g", "title": "T-N load (ton/day)", "ticks": false, "labelPadding": 3, "minExtent": 28, "maxExtent": 28, "titlePadding": 13}},
        "color": {"datum": "Total load"}}},
      {"mark": {"type": "line", "strokeWidth": 2, "strokeDash": [2, 2], "clip": true},
       "encoding": {
        "x": {"field": "d", "type": "temporal"},
        "y": {"field": "n", "type": "quantitative"},
        "color": {"datum": "Non-point load"}}}
     ]}
  ]
},
{
  "width": 705, "height": 135,
  "title": {"text": "T-P", "offset": -22, "dx": -2},
  "resolve": {"scale": {"y": "independent"}},
  "layer": [
    {"data": {"name": "rain"}, "mark": {"type": "bar", "width": 1.5},
     "encoding": {
      "x": {"field": "d", "type": "temporal", "scale": {"type": "utc", "nice": false, "padding": 0, "domain": [{"year": 2010, "month": 1, "date": 1, "utc": true}, {"year": 2011, "month": 12, "date": 31, "utc": true}]}, "axis": {"title": "Date", "format": "%b-%y", "tickCount": {"interval": "month", "step": 2}, "labelFlush": false, "labelOverlap": false, "tickSize": 5, "labelPadding": 4, "titlePadding": 2}},
      "y": {"field": "rain", "type": "quantitative", "scale": {"domain": [0, 800], "reverse": true, "nice": false}, "axis": {"orient": "right", "values": [0, 200, 400, 600, 800], "title": "Rainfall (mm/day)", "ticks": false, "labelPadding": 14, "titlePadding": 6}},
      "color": {"datum": "Rainfall", "scale": {"domain": ["Rainfall", "Total load", "Non-point load"], "range": ["#262a5e", "#3558b5", "#ff3b2f"]},
        "legend": {"legendX": 410, "legendY": -28,
          "encode": {"symbols": {"update": {
            "shape": {"signal": "datum.value === 'Rainfall' ? 'M-1,-0.5H3V0.5H-1Z' : 'M-1,0H3'"},
            "fill": {"signal": "datum.value === 'Rainfall' ? '#262a5e' : 'transparent'"},
            "stroke": {"signal": "datum.value === 'Rainfall' ? 'transparent' : (datum.value === 'Total load' ? '#3558b5' : '#ff3b2f')"},
            "strokeWidth": {"signal": "datum.value === 'Rainfall' ? 0 : 2.5"},
            "strokeDash": {"signal": "datum.value === 'Non-point load' ? [2, 2] : [1, 0]"},
            "opacity": {"value": 1}}}}}}
     }},
    {"data": {"name": "tp"},
     "layer": [
      {"mark": {"type": "line", "strokeWidth": 2.5, "clip": true},
       "encoding": {
        "x": {"field": "d", "type": "temporal"},
        "y": {"field": "t", "type": "quantitative", "scale": {"type": "log", "domain": [0.001, 10], "nice": false}, "axis": {"values": [0.001, 0.01, 0.1, 1, 10], "format": "~g", "title": "T-P load (ton/day)", "ticks": false, "labelPadding": 3, "minExtent": 40, "maxExtent": 40, "titlePadding": 4}},
        "color": {"datum": "Total load"}}},
      {"mark": {"type": "line", "strokeWidth": 2, "strokeDash": [2, 2], "clip": true},
       "encoding": {
        "x": {"field": "d", "type": "temporal"},
        "y": {"field": "n", "type": "quantitative"},
        "color": {"datum": "Non-point load"}}}
     ]}
  ]
}
]
}
